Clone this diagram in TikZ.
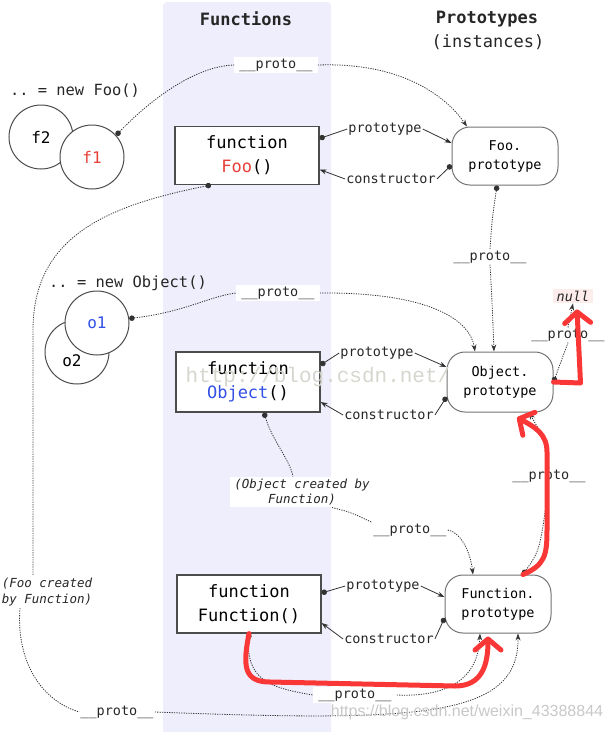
\documentclass[tikz,border=0pt]{standalone}
\usepackage{fontspec}
\setmonofont{DejaVu Sans Mono}
\newfontfamily\wmserif{Liberation Mono}
\newfontfamily\wmsans{Liberation Sans}
\usetikzlibrary{arrows.meta}
\definecolor{bandc}{RGB}{238,238,252}
\definecolor{fooRed}{RGB}{232,64,56}
\definecolor{objBlue}{RGB}{50,80,230}
\definecolor{redpen}{RGB}{250,55,55}
\definecolor{linec}{RGB}{50,50,50}
\definecolor{nullbg}{RGB}{253,236,236}
\definecolor{wm}{RGB}{214,214,206}
\definecolor{wmb}{RGB}{200,200,200}
\begin{document}
\begin{tikzpicture}[x=1pt,y=-1pt,
 title/.style={font=\fontsize{17}{20}\selectfont\ttfamily\bfseries, text=black!85, inner sep=0pt},
 sub/.style={font=\fontsize{17}{20}\selectfont\ttfamily, text=black!85, inner sep=0pt},
 fbox/.style={draw=black!70, line width=1.1pt, fill=white, minimum width=144pt, minimum height=58pt, align=center, font=\fontsize{17}{24}\selectfont\ttfamily, inner sep=0pt},
 pbox/.style={draw=black!55, line width=1pt, fill=white, rounded corners=18pt, minimum width=106pt, minimum height=58pt, align=center, font=\fontsize{13.5}{19}\selectfont\ttfamily, inner sep=0pt},
 inst/.style={circle, draw=black!70, line width=1pt, fill=white, minimum size=64pt, inner sep=0pt, font=\fontsize{16}{19}\selectfont\ttfamily},
 ctext/.style={font=\fontsize{16}{19}\selectfont\ttfamily, inner sep=0pt},
 hdr/.style={font=\fontsize{15.4}{19}\selectfont\ttfamily, text=black!85, inner sep=0pt},
 lbl/.style={font=\fontsize{13.5}{16}\selectfont\ttfamily, inner sep=1pt, text=black!85},
 plbl/.style={lbl, fill=white, inner xsep=5pt, inner ysep=1.5pt},
 note/.style={font=\fontsize{12.5}{15.5}\selectfont\ttfamily\itshape, align=center, inner sep=2pt, text=black!85},
 dline/.style={linec, line width=0.8pt, dash pattern=on 1.2pt off 1.2pt},
 dstart/.style={dline, {Circle[length=5.5pt]}-},
 dmid/.style={dline},
 dend/.style={dline, -{Stealth[length=7pt,width=5pt]}},
 sline/.style={linec, line width=0.8pt},
 sstart/.style={sline, {Circle[length=5.5pt]}-},
 send/.style={sline, -{Stealth[length=7pt,width=5pt]}},
 redarrow/.style={draw=redpen, line width=5pt, line cap=round, line join=round, -{Straight Barb[round,length=11pt,width=26pt]}}
]
\useasboundingbox (0,0) rectangle (609,732);
% band
\fill[bandc, rounded corners=4pt] (163,2) rectangle (331,745);

% titles
\node[title] (tfun) at (246,19) {Functions};
\node[title] (tproto) at (487,19) {Prototypes};
\node[sub] (tinst) at (488,42) {(instances)};

% instances
\node[hdr] (hfoo) at (75,91) {.. = new Foo()};
\node[inst] (f2) at (41,137) {f2};
\node[inst, text=fooRed] (f1) at (92,157) {f1};
\node[hdr] (hobj) at (128,283) {.. = new Object()};
\node[inst] (o2) at (77,352) {};
\node[ctext] (o2t) at (72,361) {o2};
\node[inst, text=objBlue] (o1) at (97,323) {o1};

% function boxes
\node[fbox] (foo) at (247,155.5) {function\\\textcolor{fooRed}{Foo}()};
\node[fbox, minimum height=60pt] (objbox) at (248,382) {function\\\textcolor{objBlue}{Object}()};
\node[fbox] (funbox) at (249,604) {function\\Function()};

% prototype nodes
\node[pbox] (fooproto) at (505,156) {Foo.\\prototype};
\node[pbox, minimum height=60pt] (objproto) at (500,382) {Object.\\prototype};
\node[pbox] (funproto) at (498,604) {Function.\\prototype};

% labels
\node[lbl] (lp1) at (385,129) {prototype};
\node[lbl] (lc1) at (391,179) {constructor};
\node[lbl] (lp2) at (377,353) {prototype};
\node[lbl] (lc2) at (389,415) {constructor};
\node[lbl] (lp3) at (383,586) {prototype};
\node[lbl] (lc3) at (389,639) {constructor};

\node[plbl] (pr1) at (276,65) {\_\_proto\_\_};
\node[lbl] (pr2) at (490,257) {\_\_proto\_\_};
\node[plbl] (pr3) at (278,293) {\_\_proto\_\_};
\node[lbl] (pr4) at (568,335) {\_\_proto\_\_};
\node[lbl] (pr5) at (549,476) {\_\_proto\_\_};
\node[lbl] (pr6) at (410,530) {\_\_proto\_\_};
\node[plbl] (pr7) at (355,695) {\_\_proto\_\_};
\node[lbl] (pr8) at (117,712) {\_\_proto\_\_};

\node[note, fill=white, inner xsep=4pt] (ctext) at (302,492) {(Object created by\\Function)};
\node[note] (ftext) at (47,592) {(Foo created\\by Function)};
\node[lbl, font=\fontsize{13.5}{16}\selectfont\ttfamily\itshape, fill=nullbg, inner xsep=4pt, inner ysep=2pt] (null) at (573,296) {null};

% f1 -> Foo.prototype
\draw[dstart] (f1.42) .. controls (150,100) and (195,66) .. (pr1.west);
\draw[dend] (pr1.east) .. controls (400,62) and (445,95) .. ([xshift=-38pt]fooproto.north);
% Foo prototype / constructor
\draw[sstart] ([yshift=17pt]foo.east) -- (lp1.west);
\draw[send] (lp1.east) -- ([yshift=13pt]fooproto.west);
\draw[sstart] ([yshift=-9pt]fooproto.west) -- (lc1.east);
\draw[send] (lc1.west) -- ([yshift=-14pt]foo.east);
% Foo -> Function.prototype
\draw[dstart] ([xshift=-36pt]foo.south) .. controls (110,205) and (33,235) .. (33,330) -- ([xshift=-14pt]ftext.north);
\draw[dmid] ([xshift=-27pt]ftext.south) .. controls (16,660) and (40,700) .. (pr8.west);
\draw[dend] (pr8.east) .. controls (420,722) and (519,718) .. ([xshift=20pt]funproto.south);
% Foo.prototype -> Object.prototype
\draw[dstart] ([xshift=-8pt]fooproto.south) .. controls (492,220) .. (pr2.north);
\draw[dend] (pr2.south) .. controls (492,300) .. ([xshift=-6pt]objproto.north);
% o1 -> Object.prototype
\draw[dstart] (o1.8) .. controls (185,312) and (210,296) .. (pr3.west);
\draw[dend] (pr3.east) .. controls (430,292) and (470,320) .. ([xshift=-25pt]objproto.north);
% Object prototype / constructor
\draw[sstart] ([yshift=17pt]objbox.east) -- (lp2.west);
\draw[send] (lp2.east) -- ([yshift=15pt]objproto.west);
\draw[sstart] ([yshift=-15pt]objproto.west) -- (lc2.east);
\draw[send] (lc2.west) -- ([yshift=-20pt]objbox.east);
% Object.prototype -> null
\draw[dstart] (objproto.east) -- (pr4.south);
\draw[dend] (pr4.north) -- (null.south);
% Object -> Function.prototype
\draw[dstart] ([xshift=16pt]objbox.south) .. controls (272,440) and (290,460) .. ([xshift=-9pt]ctext.north);
\draw[dmid] ([xshift=30pt]ctext.south) .. controls (350,512) .. (pr6.north west);
\draw[dend] (pr6.east) .. controls (460,532) and (470,550) .. ([xshift=-25pt]funproto.north);
% Function.prototype -> Object.prototype
\draw[dstart] ([xshift=25pt]funproto.north) .. controls (540,550) .. (pr5.south);
\draw[dend] (pr5.north) .. controls (545,440) .. ([xshift=29pt]objproto.south);
% Function prototype / constructor
\draw[sstart] ([yshift=11pt]funbox.east) -- (lp3.west);
\draw[send] (lp3.east) -- ([yshift=7pt]funproto.west);
\draw[sstart] ([yshift=-14pt]funproto.west) -- (lc3.east);
\draw[send] (lc3.west) -- ([yshift=-19pt]funbox.east);
% Function -> Function.prototype
\draw[dstart] (funbox.south) .. controls (246,680) and (270,688) .. (pr7.west);
\draw[dend] (pr7.east) .. controls (440,697) and (478,684) .. ([xshift=-18pt]funproto.south);

% watermarks
\node[font=\wmserif\fontsize{21}{24}\selectfont, text=wm, inner sep=0pt] (wm1) at (318,377) {http://blog.csdn.net/};
\node[font=\wmsans\fontsize{16}{19}\selectfont, text=wmb, inner sep=0pt] (wm2) at (467,712) {https://blog.csdn.net/weixin\_43388844};

% red hand-drawn arrows
\draw[redarrow] (objproto.east) -- ++(27,1) -- ([xshift=4pt,yshift=-6pt]null.south);
\draw[redarrow] ([xshift=25pt]funproto.north) .. controls (545,565) and (547,555) .. (547,530) -- (547,452) .. controls (547,434) and (535,427) .. ([xshift=17pt,yshift=-5pt]objproto.south);
\draw[redarrow] (funbox.south) .. controls (243,665) and (243,682) .. (270,682) -- (455,686) .. controls (482,686) and (488,665) .. ([xshift=-10pt,yshift=-3pt]funproto.south);
\end{tikzpicture}
\end{document}
